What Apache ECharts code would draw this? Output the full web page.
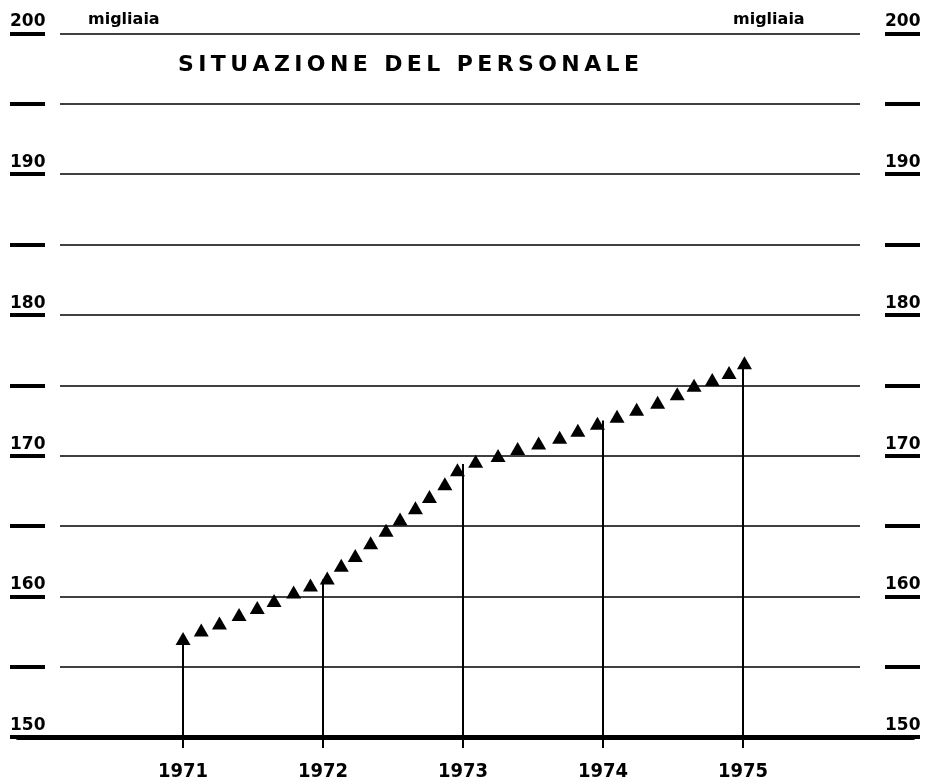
<!DOCTYPE html>
<html>
<head>
<meta charset="utf-8">
<script src="https://cdn.jsdelivr.net/npm/echarts@6/dist/echarts.min.js"></script>
<style>
html, body { margin: 0; padding: 0; background: #fff; }
#chart { width: 929px; height: 783px; }
</style>
</head>
<body>
<div id="chart"></div>
<script>
// anni sull'asse orizzontale
var years = [1971, 1972, 1973, 1974, 1975];
// posizione dei triangoli (anno + frazione) e valori in migliaia
var pointTimes = [
	0.00, 0.13, 0.26, 0.40, 0.53, 0.65, 0.79, 0.91,
	1.03, 1.13, 1.23, 1.34, 1.45, 1.55, 1.66, 1.76, 1.87, 1.96,
	2.09, 2.25, 2.39, 2.54, 2.69, 2.82, 2.96,
	3.10, 3.24, 3.39, 3.53, 3.65, 3.78, 3.90, 4.01
];
var pointValues = [
	157.0, 157.6, 158.1, 158.7, 159.2, 159.7, 160.3, 160.8,
	161.3, 162.2, 162.9, 163.8, 164.7, 165.5, 166.3, 167.1, 168.0, 169.0,
	169.6, 170.0, 170.5, 170.9, 171.3, 171.8, 172.3,
	172.8, 173.3, 173.8, 174.4, 175.0, 175.4, 175.9, 176.6
];
// altezza delle frecce verticali
var arrowTops = [157.0, 161.2, 169.4, 172.5, 176.5];
var yTickLabels = [150, 160, 170, 180, 190, 200];
var unitLabel = 'migliaia';
var titleText = 'SITUAZIONE DEL PERSONALE';

var fontBold = "'DejaVu Sans', sans-serif";
var fontYear = "'DejaVu Sans Condensed', 'DejaVu Sans', sans-serif";

var chart = echarts.init(document.getElementById('chart'));

var points = [];
for (var i = 0; i < pointTimes.length; i++) {
	points.push([years[0] + pointTimes[i], pointValues[i]]);
}
var arrows = [];
for (var j = 0; j < years.length; j++) {
	arrows.push([{ coord: [years[j], 150] }, { coord: [years[j], arrowTops[j]] }]);
}
// titolo spaziato (thin space tra le lettere)
var titleSpaced = titleText.split('').join('\u2009');

function sideAxis(pos) {
	return {
		gridIndex: 2,
		type: 'value',
		position: pos,
		min: 150,
		max: 200,
		interval: 5,
		axisLine: { show: false },
		axisTick: { length: 35, lineStyle: { color: '#000', width: 4 } },
		axisLabel: {
			customValues: yTickLabels,
			margin: pos === 'left' ? 35 : 0,
			align: 'left',
			verticalAlign: 'bottom',
			padding: [0, 0, 3, 0],
			color: '#000',
			fontFamily: fontBold,
			fontWeight: 'bold',
			fontSize: 17
		},
		splitLine: { show: false }
	};
}

var option = {
	animation: false,
	backgroundColor: '#fff',
	grid: [
		{ left: 18, right: 16, top: 33.5, bottom: 46 },
		{ left: 60, right: 69, top: 33.5, bottom: 46 },
		{ left: 45, right: 44, top: 33.5, bottom: 46 }
	],
	xAxis: [{
		gridIndex: 0,
		type: 'value',
		min: 1969.821,
		max: 1976.214,
		axisLine: { lineStyle: { color: '#000', width: 5 } },
		axisTick: { customValues: years, length: 11, lineStyle: { color: '#000', width: 2 } },
		axisLabel: {
			customValues: years,
			margin: 25,
			color: '#000',
			fontFamily: fontYear,
			fontWeight: 'bold',
			fontSize: 20,
			formatter: function (v) { return String(v); }
		},
		splitLine: { show: false }
	}, {
		gridIndex: 1, type: 'value', min: 0, max: 1, show: false
	}, {
		gridIndex: 2, type: 'value', min: 0, max: 1, show: false
	}],
	yAxis: [{
		gridIndex: 0,
		type: 'value',
		min: 150,
		max: 200,
		show: false
	}, {
		gridIndex: 1,
		type: 'value',
		min: 150,
		max: 200,
		interval: 5,
		axisLine: { show: false },
		axisTick: { show: false },
		axisLabel: { show: false },
		splitLine: { lineStyle: { color: '#000', width: 1.5 } }
	}, sideAxis('left'), sideAxis('right')],
	graphic: [{
		type: 'text',
		left: 88,
		top: 12,
		style: { text: unitLabel, fill: '#000', font: 'bold 16px ' + fontBold }
	}, {
		type: 'text',
		left: 733,
		top: 12,
		style: { text: unitLabel, fill: '#000', font: 'bold 16px ' + fontBold }
	}, {
		type: 'text',
		left: 178,
		top: 54,
		style: { text: titleSpaced, fill: '#000', font: 'bold 22px ' + fontBold }
	}],
	series: [{
		type: 'scatter',
		xAxisIndex: 0,
		yAxisIndex: 0,
		symbol: 'triangle',
		symbolSize: [15, 13],
		itemStyle: { color: '#000', opacity: 1 },
		z: 3,
		data: points,
		markLine: {
			silent: true,
			symbol: ['none', 'none'],
			label: { show: false },
			lineStyle: { color: '#000', width: 2, type: 'solid' },
			data: arrows
		}
	}]
};
chart.setOption(option);
</script>
</body>
</html>
